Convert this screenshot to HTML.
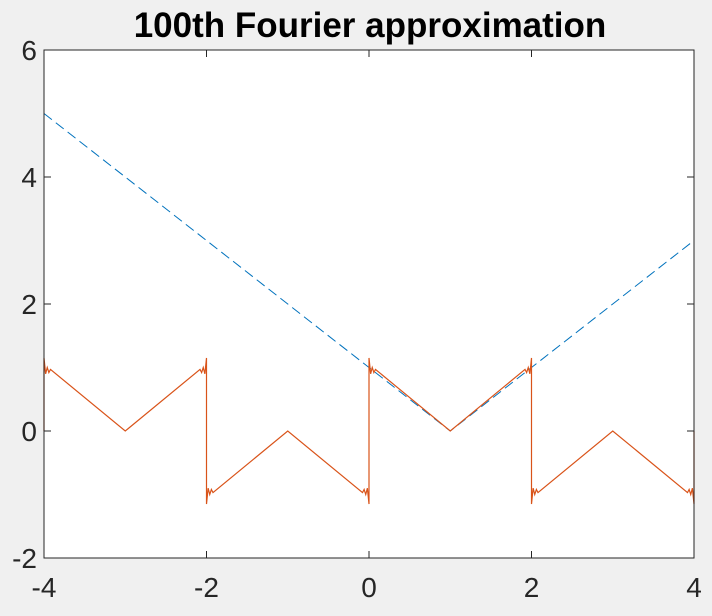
<!DOCTYPE html>
<html><head><meta charset="utf-8"><style>
body{margin:0;background:#f0f0f0;}
svg{display:block;font-family:"Liberation Sans",sans-serif;}
</style></head><body>
<svg id="chart" width="712" height="616">
<rect x="0" y="0" width="712" height="616" fill="#f0f0f0"/>
<rect x="44" y="50" width="650" height="508" fill="#fff"/>
<text x="370" y="37" text-anchor="middle" font-size="35" font-weight="bold" fill="#000">100th Fourier approximation</text>
<g id="marks"></g>
<g id="axes"></g>
</svg>
<script>
const xTicks=[-4,-2,0,2,4];
const yTicks=[-2,0,2,4,6];
const blueX=[-4,0,1,2,4];
const blueY=[5,1,0,1,3];
const redX=[-4,-4,-3.98,-3.96,-3.94,-3.92,-3,-2.08,-2.06,-2.04,-2.02,-2,-2,-1.98,-1.96,-1.94,-1.92,-1,-0.08,-0.06,-0.04,-0.02,0,0,0.02,0.04,0.06,0.08,1,1.92,1.94,1.96,1.98,2,2,2.02,2.04,2.06,2.08,3,3.92,3.94,3.96,3.98,4,4];
const redY=[0,1.15,0.9,1.0,0.92,0.97,0,0.97,0.92,1.0,0.9,1.15,-1.15,-0.9,-1.0,-0.92,-0.97,0,-0.97,-0.92,-1.0,-0.9,-1.15,1.15,0.9,1.0,0.92,0.97,0,0.97,0.92,1.0,0.9,1.15,-1.15,-0.9,-1.0,-0.92,-0.97,0,-0.97,-0.92,-1.0,-0.9,-1.15,0];
const X0=44,X1=694,Y0=558,Y1=50;
const sx=v=>X0+(v+4)/8*(X1-X0);
const sy=v=>Y0-(v+2)/8*(Y0-Y1);
const NS="http://www.w3.org/2000/svg";
const marks=document.getElementById('marks'),axes=document.getElementById('axes');
function pts(xs,ys){return xs.map((x,i)=>sx(x).toFixed(2)+","+sy(ys[i]).toFixed(2)).join(" ");}
const blue=document.createElementNS(NS,'polyline');
blue.setAttribute('points',pts(blueX,blueY));
blue.setAttribute('fill','none');blue.setAttribute('stroke','#0072bd');blue.setAttribute('stroke-width','1');blue.setAttribute('stroke-dasharray','10,5');


marks.appendChild(blue);
const red=document.createElementNS(NS,'polyline');
red.setAttribute('points',pts(redX,redY));
red.setAttribute('fill','none');red.setAttribute('stroke','#d95319');red.setAttribute('stroke-width','1.2');


marks.appendChild(red);
const box=document.createElementNS(NS,'rect');
box.setAttribute('x',X0);box.setAttribute('y',Y1);box.setAttribute('width',X1-X0);box.setAttribute('height',Y0-Y1);
box.setAttribute('fill','none');box.setAttribute('stroke','#262626');box.setAttribute('stroke-width','1');


axes.appendChild(box);
function line(x1,y1,x2,y2){const l=document.createElementNS(NS,'line');l.setAttribute('x1',x1);l.setAttribute('y1',y1);l.setAttribute('x2',x2);l.setAttribute('y2',y2);l.setAttribute('stroke','#262626');return l;}
xTicks.forEach(v=>{const x=sx(v);
 const t1=line(x,Y0,x,Y0-7);axes.appendChild(t1);
 const t2=line(x,Y1,x,Y1+7);axes.appendChild(t2);
 const t=document.createElementNS(NS,'text');t.setAttribute('x',x);t.setAttribute('y',597);t.setAttribute('text-anchor','middle');t.setAttribute('font-size','28');t.setAttribute('fill','#262626');t.textContent=v;
 axes.appendChild(t);});
yTicks.forEach(v=>{const y=sy(v);
 const t1=line(X0,y,X0+7,y);axes.appendChild(t1);
 const t2=line(X1,y,X1-7,y);axes.appendChild(t2);
 const t=document.createElementNS(NS,'text');t.setAttribute('x',37);t.setAttribute('y',y+10);t.setAttribute('text-anchor','end');t.setAttribute('font-size','28');t.setAttribute('fill','#262626');t.textContent=v;
 axes.appendChild(t);});
</script>
</body></html>
